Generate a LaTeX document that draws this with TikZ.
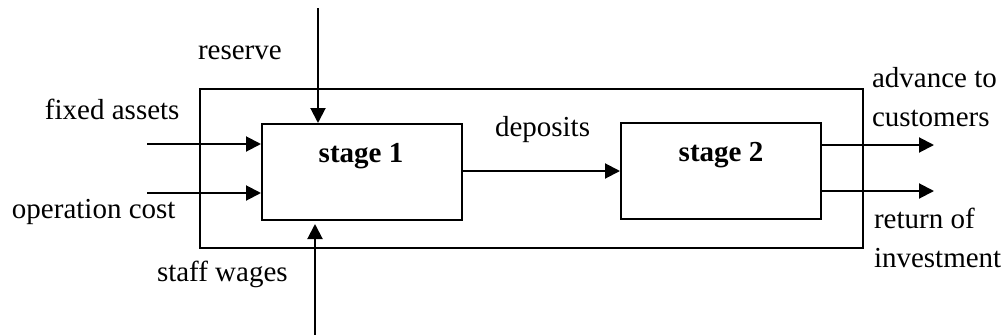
\documentclass[tikz,border=0pt]{standalone}
\usepackage{fontspec}
\setmainfont{Liberation Serif}
\usetikzlibrary{arrows.meta}
\begin{document}
\begin{tikzpicture}[x=1pt,y=-1pt,
  line width=2pt,
  every node/.style={font=\fontsize{29}{39}\selectfont, inner sep=0pt},
  box/.style={draw, line width=2pt, minimum width=200pt, minimum height=96pt},
  arr/.style={-{Triangle[length=15pt,width=15pt]}},
  lbl/.style={anchor=base west},
  stagelbl/.style={anchor=base, font=\fontsize{29}{39}\selectfont\bfseries}]
\useasboundingbox (0,0) rectangle (1005,335);
\node[draw, line width=2pt, minimum width=663pt, minimum height=159pt] (outer) at (531.5,168.5) {};
\node[box] (s1) at (362,172) {};
\node[box] (s2) at (721,170.5) {};
\node[stagelbl] (s1l) at (361,162) {stage 1};
\node[stagelbl] (s2l) at (721,161) {stage 2};
% inputs
\coordinate (rtop) at (318,8);
\coordinate (swb) at (315,335);
\coordinate (fa) at (147,144);
\coordinate (oc) at (147,193);
\coordinate (ac) at (934,145);
\coordinate (ri) at (934,191);
\draw[arr] (rtop) -- (rtop |- s1.north);
\draw[arr, shorten >=3pt] (swb) -- (swb |- s1.south);
\draw[arr] (fa) -- (fa -| s1.west);
\draw[arr] (oc) -- (oc -| s1.west);
\draw[arr] (s1.east |- 0,171) -- (s2.west |- 0,171);
\draw[arr] (ac -| s2.east) -- (ac);
\draw[arr] (ri -| s2.east) -- (ri);
% labels
\node[lbl] (reserve) at (197,59) {reserve};
\node[lbl] (fixed) at (44,119) {fixed assets};
\node[lbl] (opcost) at (11,218) {operation cost};
\node[lbl] (staff) at (156,281) {staff wages};
\node[lbl] (dep) at (494,136) {deposits};
\node[lbl] (adv) at (871,87) {advance to};
\node[lbl] (cust) at (871,126) {customers};
\node[lbl] (ret) at (873,228) {return of};
\node[lbl] (inv) at (873,267) {investment};
\end{tikzpicture}
\end{document}
